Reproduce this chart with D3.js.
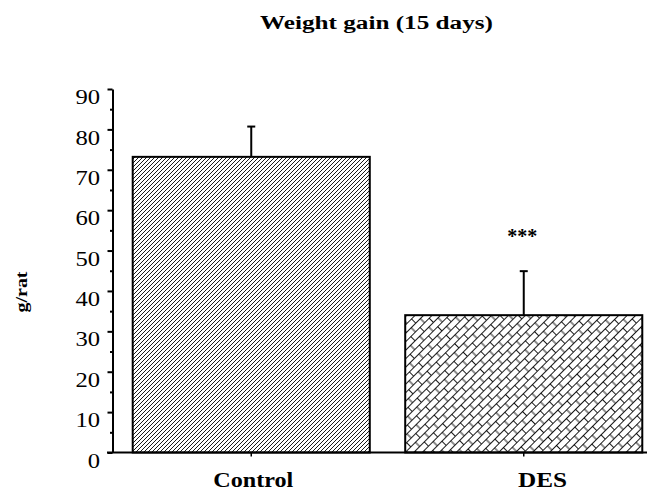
<!DOCTYPE html>
<html>
<head>
<meta charset="utf-8">
<script src="https://cdn.jsdelivr.net/npm/d3@7/dist/d3.min.js"></script>
<style>
  body { margin: 0; background: #fff; }
  svg { display: block; }
  text { font-family: "Liberation Serif", "Times New Roman", serif; fill: #000; }
</style>
</head>
<body>
<div class="chart"></div>
<script>
// data
var groups = ["Control", "DES"];
var means = [73.2, 34.0];
var errors = [7.5, 10.9];
var stars = ["", "***"];
var yTicks = [0, 10, 20, 30, 40, 50, 60, 70, 80, 90];
var yMinorTicks = [5, 15, 25, 35, 45, 55, 65, 75, 85];

var W = 647, H = 492;

var svg = d3.select(".chart").append("svg")
    .attr("width", W)
    .attr("height", H);

var defs = svg.append("defs");

// fine "/" hatching for Control
var hatch = defs.append("pattern")
    .attr("id", "hatch")
    .attr("patternUnits", "userSpaceOnUse")
    .attr("width", 4)
    .attr("height", 4);
hatch.append("rect").attr("width", 4).attr("height", 4).attr("fill", "#fff");
hatch.append("path")
    .attr("d", "M-1,1 l2,-2 M0,4 l4,-4 M3,5 l2,-2")
    .attr("stroke", "#000")
    .attr("stroke-width", 0.9);

// diagonal brick for DES
var brick = defs.append("pattern")
    .attr("id", "brick")
    .attr("patternUnits", "userSpaceOnUse")
    .attr("width", 13)
    .attr("height", 12)
    .attr("patternTransform", "rotate(-45)");
brick.append("rect").attr("width", 13).attr("height", 12).attr("fill", "#fff");
brick.append("path")
    .attr("d", "M0,0.5 H13 M0,6.5 H13 M0.5,0 V6 M7,6 V12")
    .attr("stroke", "#000")
    .attr("stroke-width", 0.9);

var y = d3.scaleLinear()
    .domain([0, 90])
    .range([452.5, 89]);

var x = d3.scaleBand()
    .domain(groups)
    .range([115, 660])
    .paddingInner(0.13)
    .paddingOuter(0.065);

var axisX = 112.5;

// bars
svg.selectAll(".bar")
    .data(groups)
    .enter().append("rect")
    .attr("class", "bar")
    .attr("x", function(d){ return x(d); })
    .attr("y", function(d, i){ return y(means[i]); })
    .attr("width", x.bandwidth())
    .attr("height", function(d, i){ return y(0) - y(means[i]); })
    .attr("fill", function(d, i){ return i === 0 ? "url(#hatch)" : "url(#brick)"; })
    .attr("stroke", "#000")
    .attr("stroke-width", 2);

// error bars
var eb = svg.selectAll(".err")
    .data(groups)
    .enter().append("g")
    .attr("class", "err");

eb.append("line")
    .attr("x1", function(d){ return x(d) + x.bandwidth() / 2; })
    .attr("x2", function(d){ return x(d) + x.bandwidth() / 2; })
    .attr("y1", function(d, i){ return y(means[i]); })
    .attr("y2", function(d, i){ return y(means[i] + errors[i]); })
    .attr("stroke", "#000")
    .attr("stroke-width", 2);

eb.append("line")
    .attr("x1", function(d){ return x(d) + x.bandwidth() / 2 - 4; })
    .attr("x2", function(d){ return x(d) + x.bandwidth() / 2 + 4; })
    .attr("y1", function(d, i){ return y(means[i] + errors[i]); })
    .attr("y2", function(d, i){ return y(means[i] + errors[i]); })
    .attr("stroke", "#000")
    .attr("stroke-width", 2);

// significance stars
svg.selectAll(".star")
    .data(groups)
    .enter().append("text")
    .attr("class", "star")
    .attr("x", function(d){ return x(d) + x.bandwidth() / 2 - 1.5; })
    .attr("y", 243)
    .attr("text-anchor", "middle")
    .style("font-size", "20px")
    .style("font-weight", "bold")
    .text(function(d, i){ return stars[i]; });

// y axis
var yAxis = d3.axisLeft(y)
    .tickValues(yTicks)
    .tickSizeInner(5)
    .tickSizeOuter(0)
    .tickPadding(8);

var gy = svg.append("g")
    .attr("transform", "translate(" + axisX + ",0)")
    .call(yAxis);

gy.select(".domain").attr("stroke-width", 2);
gy.selectAll(".tick line").attr("stroke-width", 2);
gy.selectAll(".tick text")
    .attr("dy", "0.68em")
    .attr("x", -12.5)
    .attr("textLength", function(d){ return String(d).length * 12.3; })
    .attr("lengthAdjust", "spacingAndGlyphs")
    .style("font-size", "21.5px")
    .style("font-family", "\"Liberation Serif\", \"Times New Roman\", serif");

var gyMinor = svg.append("g")
    .attr("transform", "translate(" + axisX + ",0)")
    .call(d3.axisLeft(y).tickValues(yMinorTicks).tickSize(2.5).tickFormat(""));
gyMinor.select(".domain").remove();
gyMinor.selectAll(".tick line").attr("stroke-width", 2);

// baseline
svg.append("line")
    .attr("x1", 107)
    .attr("x2", W)
    .attr("y1", y(0))
    .attr("y2", y(0))
    .attr("stroke", "#000")
    .attr("stroke-width", 2);

// category ticks
svg.selectAll(".ctick")
    .data(groups)
    .enter().append("line")
    .attr("x1", function(d){ return x(d) + x.bandwidth() / 2; })
    .attr("x2", function(d){ return x(d) + x.bandwidth() / 2; })
    .attr("y1", y(0))
    .attr("y2", y(0) + 4)
    .attr("stroke", "#000")
    .attr("stroke-width", 1.5);

// category labels
var labelLen = [80, 49];
svg.selectAll(".clabel")
    .data(groups)
    .enter().append("text")
    .attr("class", "clabel")
    .attr("x", function(d, i){ return i === 0 ? x(d) + x.bandwidth() / 2 + 2 : 542.5; })
    .attr("y", 487)
    .attr("text-anchor", "middle")
    .attr("textLength", function(d, i){ return labelLen[i]; })
    .attr("lengthAdjust", "spacingAndGlyphs")
    .style("font-size", "22px")
    .style("font-weight", "bold")
    .text(function(d){ return d; });

// title
svg.append("text")
    .attr("x", 260)
    .attr("y", 28.5)
    .attr("textLength", 233)
    .attr("lengthAdjust", "spacingAndGlyphs")
    .style("font-size", "18.5px")
    .style("font-weight", "bold")
    .text("Weight gain (15 days)");

// y label
svg.append("text")
    .attr("transform", "translate(27,292) rotate(-90)")
    .attr("text-anchor", "middle")
    .attr("textLength", 41)
    .attr("lengthAdjust", "spacingAndGlyphs")
    .style("font-size", "16px")
    .style("font-weight", "bold")
    .text("g/rat");
</script>
</body>
</html>
